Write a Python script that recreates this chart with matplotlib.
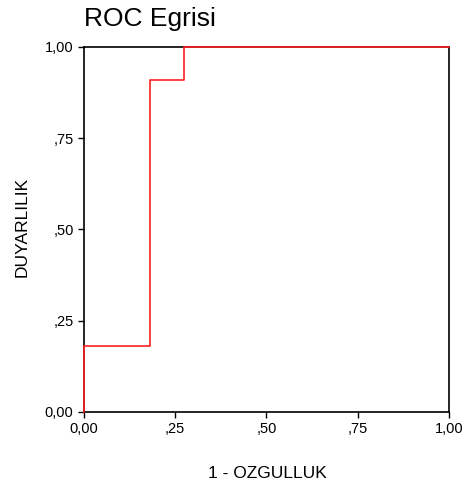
import matplotlib
matplotlib.use("Agg")
import matplotlib.pyplot as plt

plt.rcParams['font.family'] = ['Liberation Sans', 'DejaVu Sans']

# ROC points (1 - specificity, sensitivity)
fpr = [0.0, 0.0, 0.1818, 0.1818, 0.2727, 0.2727, 1.0]
tpr = [0.0, 0.1818, 0.1818, 0.9091, 0.9091, 1.0, 1.0]

tick_vals = [0.0, 0.25, 0.5, 0.75, 1.0]
tick_labels = ['0,00', ',25', ',50', ',75', '1,00']

fig = plt.figure(figsize=(4.65, 4.94), dpi=100)
ax = fig.add_axes([0.1806, 0.166, 0.785, 0.739])

ax.plot(fpr, tpr, color='#ff2020', linewidth=1.2, clip_on=False, zorder=5)

ax.set_xlim(0, 1)
ax.set_ylim(0, 1)
ax.set_xticks(tick_vals)
ax.set_xticklabels(tick_labels)
ax.set_yticks(tick_vals)
ax.set_yticklabels(tick_labels)
ax.tick_params(direction='out', length=4, width=1, labelsize=10.5, color='black')
for s in ax.spines.values():
    s.set_linewidth(1.2)
    s.set_color('black')

ax.set_title('ROC Egrisi', loc='left', fontsize=19, pad=15)
fig.text(0.574, 0.042, '1 - OZGULLUK', ha='center', va='center', fontsize=12.5)
fig.text(0.047, 0.540, 'DUYARLILIK', ha='center', va='center', rotation=90, fontsize=12.5)

fig.savefig('out.png', dpi=100)
